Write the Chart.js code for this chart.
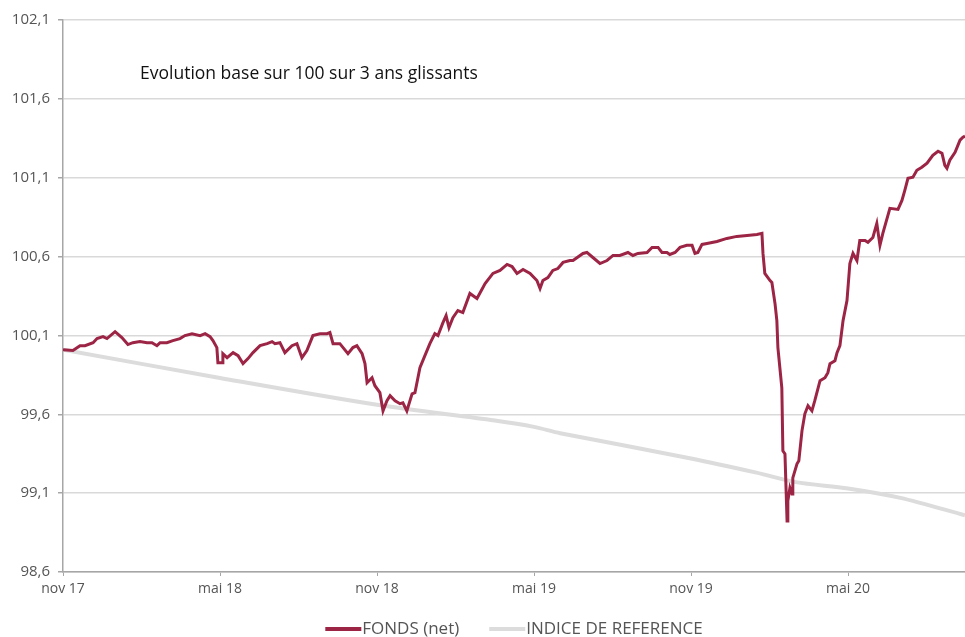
<!DOCTYPE html>
<html>
<head>
<meta charset="utf-8">
<script src="https://cdn.jsdelivr.net/npm/chart.js@4.4.1/dist/chart.umd.min.js"></script>
<style>
  html, body { margin: 0; padding: 0; background: #fff; }
  #wrap { width: 965px; height: 637px; }
</style>
</head>
<body>
<div id="wrap"><canvas id="perfChart"></canvas></div>
<script>
// mois écoulés depuis nov 17
const xLabels = ['nov 17', 'mai 18', 'nov 18', 'mai 19', 'nov 19', 'mai 20'];

const fundX = [
  0, 0.38, 0.65, 0.84, 1.15, 1.30, 1.53, 1.68, 1.99, 2.25, 2.48, 2.67, 2.94, 3.21, 3.40, 3.59, 3.71, 3.97,
  4.20, 4.47, 4.66, 4.93, 5.24, 5.43, 5.62, 5.73, 5.88, 5.92, 6.08, 6.11, 6.27, 6.50, 6.69, 6.88, 7.07, 7.26,
  7.53, 7.80, 7.99, 8.10, 8.29, 8.48, 8.75, 8.94, 9.13, 9.32, 9.55, 9.82, 10.09, 10.20, 10.32, 10.58, 10.89,
  11.08, 11.23, 11.43, 11.54, 11.62, 11.81, 11.92, 12.11, 12.23, 12.38, 12.50, 12.69, 12.88, 12.99, 13.14,
  13.34, 13.45, 13.64, 13.83, 14.02, 14.21, 14.33, 14.52, 14.64, 14.75, 14.90, 15.09, 15.28, 15.55, 15.82,
  16.13, 16.43, 16.70, 16.97, 17.16, 17.35, 17.58, 17.85, 18.11, 18.23, 18.34, 18.53, 18.72, 18.91, 19.11,
  19.37, 19.49, 19.87, 20.02, 20.25, 20.52, 20.79, 21.02, 21.28, 21.59, 21.78, 21.97, 22.32, 22.51, 22.74,
  22.89, 23.08, 23.19, 23.39, 23.58, 23.84, 24.04, 24.15, 24.26, 24.42, 24.61, 24.99, 25.37, 25.75, 26.14,
  26.52, 26.71, 26.75, 26.82, 27.02, 27.09, 27.21, 27.28, 27.32, 27.47, 27.51, 27.59, 27.67, 27.70, 27.78,
  27.86, 27.89, 28.05, 28.12, 28.24, 28.35, 28.47, 28.62, 28.73, 28.93, 29.12, 29.23, 29.31, 29.50, 29.58,
  29.69, 29.81, 29.96, 30.07, 30.19, 30.34, 30.45, 30.65, 30.76, 30.95, 31.10, 31.22, 31.33, 31.60, 31.91,
  32.06, 32.17, 32.29, 32.48, 32.63, 32.82, 33.02, 33.24, 33.44, 33.59, 33.70, 33.78, 33.89, 34.09, 34.28,
  34.39, 34.47
];

const fundValues = [
  100.010, 100.004, 100.035, 100.035, 100.054, 100.080, 100.092, 100.080, 100.124, 100.086, 100.042, 100.054,
  100.061, 100.054, 100.054, 100.035, 100.054, 100.054, 100.067, 100.080, 100.099, 100.111, 100.099, 100.111,
  100.092, 100.067, 100.023, 99.927, 99.927, 99.984, 99.959, 99.991, 99.972, 99.921, 99.953, 99.991,
  100.035, 100.048, 100.061, 100.048, 100.054, 99.991, 100.035, 100.048, 99.959, 100.004, 100.099, 100.111,
  100.111, 100.118, 100.048, 100.048, 99.984, 100.023, 100.035, 99.984, 99.921, 99.800, 99.832, 99.781,
  99.737, 99.622, 99.686, 99.718, 99.686, 99.667, 99.673, 99.622, 99.730, 99.737, 99.896, 99.972,
  100.048, 100.111, 100.099, 100.181, 100.226, 100.150, 100.213, 100.258, 100.245, 100.366, 100.334,
  100.429, 100.493, 100.512, 100.550, 100.537, 100.493, 100.518, 100.493, 100.448, 100.397, 100.448,
  100.467, 100.512, 100.524, 100.563, 100.575, 100.575, 100.620, 100.626, 100.594, 100.556, 100.575,
  100.607, 100.607, 100.626, 100.607, 100.620, 100.626, 100.658, 100.658, 100.626, 100.626, 100.613,
  100.626, 100.658, 100.671, 100.671, 100.620, 100.626, 100.677, 100.683, 100.696, 100.715, 100.728,
  100.734, 100.740, 100.747, 100.620, 100.493, 100.448, 100.436, 100.302, 100.194, 100.023, 99.768,
  99.368, 99.349, 98.924, 99.051, 99.133, 99.095, 99.197, 99.286, 99.305, 99.495, 99.603, 99.654,
  99.622, 99.686, 99.813, 99.832, 99.864, 99.921, 99.940, 99.991, 100.035, 100.194, 100.321, 100.556,
  100.620, 100.575, 100.702, 100.702, 100.690, 100.721, 100.810, 100.671, 100.747, 100.906, 100.899,
  100.956, 101.020, 101.096, 101.103, 101.147, 101.166, 101.192, 101.242, 101.268, 101.255, 101.179,
  101.160, 101.211, 101.261, 101.338, 101.357, 101.363
];

const refX = [0, 6, 12, 16.5, 18, 19, 24, 26.5, 28, 30, 32, 34.47];
const refValues = [100.01, 99.83, 99.66, 99.56, 99.52, 99.48, 99.32, 99.23, 99.17, 99.13, 99.07, 98.96];

const toPoints = (xs, ys) => xs.map((x, i) => ({ x: x, y: ys[i] }));
const FONT = '"Open Sans", Lato, sans-serif';

// titre dans la zone du graphique + légende dessinée à la main
const extras = {
  id: 'extras',
  afterDraw(chart) {
    const ctx = chart.ctx;
    const area = chart.chartArea;
    ctx.save();
    ctx.font = '17.5px ' + FONT;
    ctx.fillStyle = '#111';
    ctx.textBaseline = 'middle';
    ctx.fillText('Evolution base sur 100 sur 3 ans glissants', area.left + 77, area.top + 54);

    // légende
    ctx.font = '17px ' + FONT;
    const lineW = 36, gapText = 1, gapItem = 30;
    const items = chart.data.datasets.map(ds => ({
      label: ds.label, color: ds.borderColor, w: lineW + gapText + ctx.measureText(ds.label).width
    }));
    const total = items.reduce((s, it) => s + it.w, 0) + gapItem * (items.length - 1);
    let x = (area.left + area.right) / 2 - total / 2;
    const y = 629;
    items.forEach(it => {
      ctx.fillStyle = it.color;
      ctx.fillRect(x, y - 2, lineW, 4);
      ctx.fillStyle = '#555';
      ctx.fillText(it.label, x + lineW + gapText, y);
      x += it.w + gapItem;
    });
    ctx.restore();
  }
};

const ctx = document.getElementById('perfChart').getContext('2d');
new Chart(ctx, {
  type: 'line',
  data: {
    datasets: [
      {
        label: 'FONDS (net)',
        data: toPoints(fundX, fundValues),
        borderColor: '#9c2444',
        backgroundColor: '#9c2444',
        borderWidth: 3,
        pointRadius: 0,
        tension: 0,
        fill: false
      },
      {
        label: 'INDICE DE REFERENCE',
        data: toPoints(refX, refValues),
        borderColor: '#dcdcdc',
        backgroundColor: '#dcdcdc',
        borderWidth: 4,
        pointRadius: 0,
        tension: 0.3,
        fill: false
      }
    ]
  },
  options: {
    responsive: true,
    maintainAspectRatio: false,
    animation: false,
    layout: { padding: { top: 20, right: 0, left: 0, bottom: 34 } },
    plugins: {
      legend: { display: false },
      tooltip: { enabled: false }
    },
    scales: {
      x: {
        type: 'linear',
        min: 0,
        max: 34.47,
        afterFit: function(scale) { scale.height = 31; scale.paddingRight = 0; },
        ticks: {
          stepSize: 6,
          includeBounds: false,
          color: '#555',
          padding: 5,
          maxRotation: 0,
          font: { family: FONT, size: 14 },
          callback: function(value) {
            const i = Math.round(value / 6);
            return (Math.abs(value - i * 6) < 0.01 && xLabels[i]) ? xLabels[i] : '';
          }
        },
        grid: {
          drawOnChartArea: false,
          tickLength: 4,
          tickColor: '#a6a6a6'
        },
        border: { color: '#a6a6a6', width: 1.5 }
      },
      y: {
        min: 98.6,
        max: 102.1,
        afterFit: function(scale) { scale.width = 63; },
        ticks: {
          stepSize: 0.5,
          color: '#555',
          padding: 8,
          font: { family: FONT, size: 15 },
          callback: function(value) {
            return value.toFixed(1).replace('.', ',');
          }
        },
        grid: {
          color: '#d9d9d9',
          lineWidth: 1.5,
          tickLength: 5,
          tickColor: '#a6a6a6'
        },
        border: { color: '#a6a6a6', width: 1.5 }
      }
    }
  },
  plugins: [extras]
});
</script>
</body>
</html>
